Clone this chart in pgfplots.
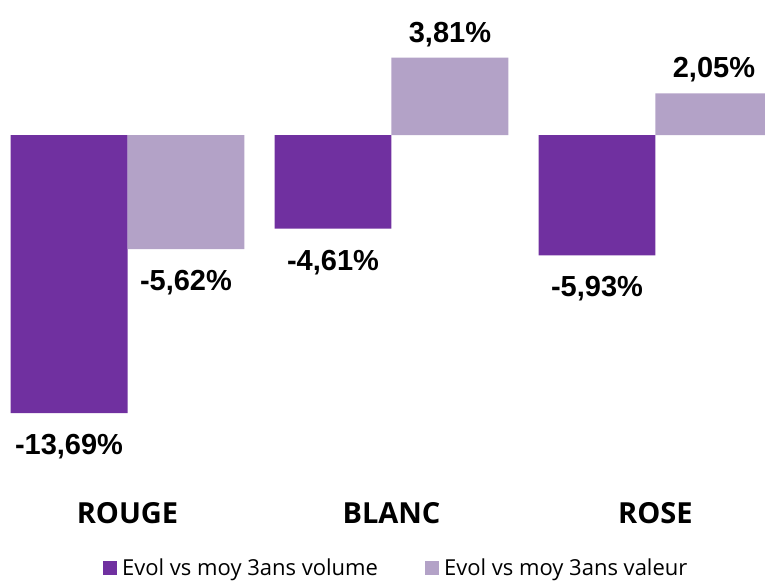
\documentclass[border=0pt]{standalone}
\usepackage{pgfplots}
\pgfplotsset{compat=1.18}
\usepackage{fontspec}
\setmainfont{Liberation Sans}
\newfontfamily\catfont{Open Sans}
\definecolor{volume}{HTML}{7030A0}
\definecolor{valeur}{HTML}{B3A2C7}
\begin{document}
\begin{tikzpicture}
\begin{axis}[
  width=765pt, height=581pt, scale only axis,
  xmin=-0.483, xmax=2.415, ymin=-21.97, ymax=6.65,
  axis line style={draw=none},
  ytick=\empty,
  xtick={0,1,2}, xticklabels={ROUGE,BLANC,ROSE},
  major tick length=0pt,
  xticklabel style={font=\catfont\bfseries\fontsize{29}{29}\selectfont, anchor=center, yshift=68pt},
  ybar=0pt, bar width=0.443,
  visualization depends on={y \as \rawy},
  nodes near coords={\pgfmathprintnumber[fixed,fixed zerofill,precision=2,use comma]{\pgfplotspointmeta}\%},
  every node near coord/.append style={font=\bfseries\fontsize{29}{29}\selectfont,
    anchor=base, yshift={(\rawy<0)*(-41.5pt)+(\rawy>=0)*(15.5pt)}},
  /pgf/number format/assume math mode=true,
  legend columns=2,
  legend style={draw=none, at={(0.518,0.022)}, anchor=center,
    font=\catfont\fontsize{22}{22}\selectfont,
    /tikz/every even column/.append style={column sep=45pt}},
  legend image code/.code={\fill[#1] (0pt,-7pt) rectangle (14pt,7pt); \path (17pt,0pt);},
]
\addplot[fill=volume, draw=none] coordinates {(0,-13.69) (1,-4.61) (2,-5.93)};
\addplot[fill=valeur, draw=none] coordinates {(0,-5.62) (1,3.81) (2,2.05)};
\legend{Evol vs moy 3ans volume, Evol vs moy 3ans valeur}
\end{axis}
\end{tikzpicture}
\end{document}
